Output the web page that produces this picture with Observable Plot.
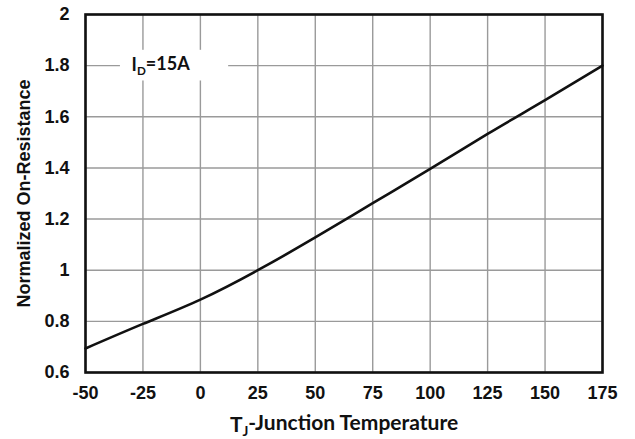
<!DOCTYPE html>
<html>
<head>
<meta charset="utf-8">
<script src="https://cdn.jsdelivr.net/npm/d3@7"></script>
<script src="https://cdn.jsdelivr.net/npm/@observablehq/plot@0.6"></script>
<style>
  html, body { margin: 0; padding: 0; background: #fff; }
</style>
</head>
<body>
<div id="chart"></div>
<script>
// Data
const temps = [-50, -25, 0, 25, 50, 75, 100, 125, 150, 175];
const resistance = [0.694, 0.79, 0.885, 1.0, 1.128, 1.262, 1.396, 1.533, 1.665, 1.8];
const xTicks = [-50, -25, 0, 25, 50, 75, 100, 125, 150, 175];
const yTicks = [0.6, 0.8, 1, 1.2, 1.4, 1.6, 1.8, 2];
const xTitle = "TJ-Junction Temperature";
const yTitle = "Normalized On-Resistance";
const noteText = "ID=15A";
const noteAt = [{temp: -17.3, value: 1.8}];
const noteBox = [{t1: -34.8, t2: 12.3, v1: 1.74, v2: 1.86}];

const data = temps.map((t, i) => ({temp: t, value: resistance[i]}));

const chart = Plot.plot({
  width: 635,
  height: 439,
  marginLeft: 85,
  marginRight: 33,
  marginTop: 14,
  marginBottom: 67,
  style: {fontFamily: "'Liberation Sans', Arial, sans-serif", fontWeight: "bold", fontSize: "18px", color: "#111", background: "#fff"},
  x: {domain: [-50, 175]},
  y: {domain: [0.6, 2]},
  marks: [
    Plot.gridX(xTicks, {stroke: "#9a9a9a", strokeOpacity: 1, strokeWidth: 1.4}),
    Plot.gridY(yTicks, {stroke: "#9a9a9a", strokeOpacity: 1, strokeWidth: 1.4}),
    Plot.rect(noteBox, {x1: "t1", x2: "t2", y1: "v1", y2: "v2", fill: "white"}),
    Plot.text(noteAt, {x: "temp", y: "value", text: () => noteText, fontFamily: "Lato, sans-serif", fontWeight: "bold", fontSize: 18, fill: "#111"}),
    Plot.line(data, {x: "temp", y: "value", curve: "natural", stroke: "#111", strokeWidth: 2.6}),
    Plot.frame({stroke: "#111", strokeWidth: 2.6}),
    Plot.axisX(xTicks, {tickSize: 0, tickPadding: 14, label: null, tickFormat: d => String(d)}),
    Plot.axisY(yTicks, {tickSize: 0, tickPadding: 16, label: null, tickFormat: d => String(d)}),
    Plot.text([xTitle], {frameAnchor: "bottom", dy: 53, lineAnchor: "middle", fontFamily: "Lato, sans-serif", fontWeight: "bold", fontSize: 21, fill: "#111"}),
    Plot.text([yTitle], {frameAnchor: "left", dx: -61, rotate: -90, textAnchor: "middle", lineAnchor: "middle", fontSize: 18, fill: "#111"})
  ]
});

document.getElementById("chart").appendChild(chart);

// Add subscripts
function subscriptify(full, main, sub, rest) {
  d3.select(chart).selectAll("text").each(function() {
    if (this.textContent === full) {
      const el = d3.select(this);
      el.text(null);
      el.append("tspan").text(main);
      el.append("tspan").attr("dy", "0.3em").attr("font-size", "0.65em").text(sub);
      el.append("tspan").attr("dy", "-0.3em").text(rest);
    }
  });
}
subscriptify(xTitle, "T", "J", "-Junction Temperature");
subscriptify(noteText, "I", "D", "=15A");
</script>
</body>
</html>
